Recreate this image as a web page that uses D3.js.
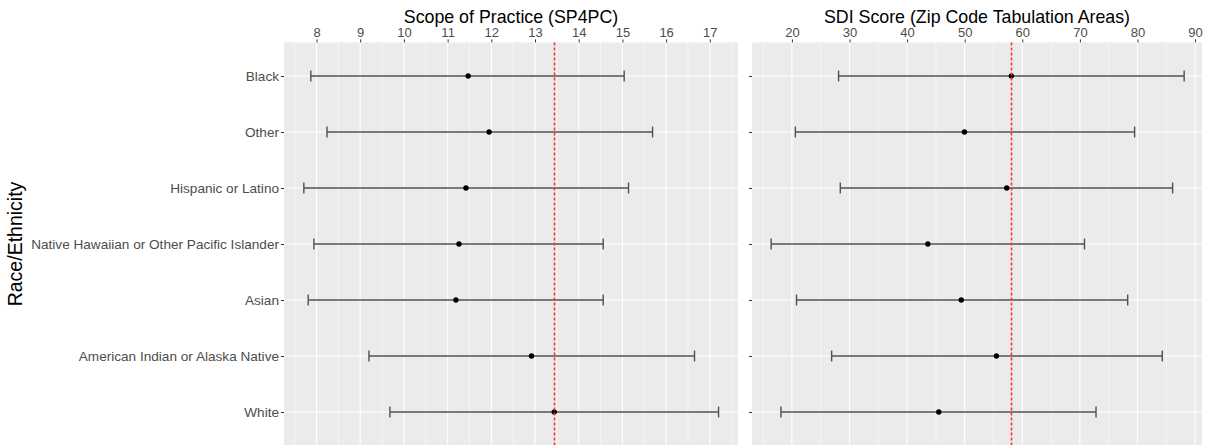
<!DOCTYPE html>
<html lang="en">
    <head>
        <meta charset="UTF-8">
        <title>Race/Ethnicity interval plot</title>
        <style>
        body {
            margin: 0;
            background: #fff;
            font-family: "Liberation Sans", Arial, sans-serif;
        }

        .panel-bg {
            fill: #EBEBEB;
        }

        .grid-major {
            stroke: #fff;
            stroke-width: 1.1px;
        }

        .grid-minor {
            stroke: #fff;
            stroke-width: 0.55px;
        }

        .panel-title {
            fill: #000;
            font-size: 17.8px;
        }

        .whisker {
            stroke: #505050;
            stroke-width: 1.4px;
            fill: none;
        }

        .ref-line {
            stroke: #FF3030;
            stroke-width: 1.6px;
            stroke-dasharray: 3 2;
        }
        </style>
    </head>
    <body>
        <svg></svg>
        <script src="https://d3js.org/d3.v7.min.js"></script>
        <script>
    // categories, top to bottom
    const categories = ["Black", "Other", "Hispanic or Latino", "Native Hawaiian or Other Pacific Islander",
        "Asian", "American Indian or Alaska Native", "White"];

    // Scope of Practice (SP4PC)
    const sp4pcMean = [11.47, 11.95, 11.42, 11.26, 11.19, 12.92, 13.44];
    const sp4pcLow  = [7.87, 8.24, 7.71, 7.94, 7.81, 9.20, 9.68];
    const sp4pcHigh = [15.04, 15.69, 15.14, 14.56, 14.56, 16.65, 17.20];
    const sp4pcRef = 13.43;
    const sp4pcTicks = [8, 9, 10, 11, 12, 13, 14, 15, 16, 17];

    // SDI Score (Zip Code Tabulation Areas)
    const sdiMean = [58.1, 49.95, 57.3, 43.6, 49.4, 55.5, 45.5];
    const sdiLow  = [28.1, 20.6, 28.4, 16.4, 20.8, 26.9, 18.1];
    const sdiHigh = [88.1, 79.5, 86.1, 70.8, 78.3, 84.3, 72.8];
    const sdiRef = 58.1;
    const sdiTicks = [20, 30, 40, 50, 60, 70, 80, 90];

    const width = 1209, height = 445;
    const svg = d3.select("svg")
        .attr("width", width)
        .attr("height", height);

    const panelTop = 42.4, panelBottom = 445.6;

    // discrete y with ggplot-like 0.6 expansion
    const y = d3.scalePoint()
        .domain(categories)
        .range([panelTop, panelBottom])
        .padding(0.6);

    const panels = [
        { title: "Scope of Practice (SP4PC)", x0: 284, x1: 738, domain: [7.256, 17.645],
          ticks: sp4pcTicks, mean: sp4pcMean, low: sp4pcLow, high: sp4pcHigh, ref: sp4pcRef, labels: true },
        { title: "SDI Score (Zip Code Tabulation Areas)", x0: 752, x1: 1202, domain: [13.07, 91.2],
          ticks: sdiTicks, mean: sdiMean, low: sdiLow, high: sdiHigh, ref: sdiRef, labels: false }
    ];

    panels.forEach(p => {
        const x = d3.scaleLinear().domain(p.domain).range([p.x0, p.x1]);
        const g = svg.append("g");

        g.append("rect")
            .attr("class", "panel-bg")
            .attr("x", p.x0).attr("y", panelTop)
            .attr("width", p.x1 - p.x0).attr("height", panelBottom - panelTop);

        // minor grid at half steps
        const step = p.ticks[1] - p.ticks[0];
        const minor = d3.range(p.ticks[0] - step / 2, p.domain[1], step)
            .filter(v => v >= p.domain[0]);
        g.selectAll(".grid-minor")
            .data(minor)
            .enter().append("line")
            .attr("class", "grid-minor")
            .attr("x1", d => x(d)).attr("x2", d => x(d))
            .attr("y1", panelTop).attr("y2", panelBottom);

        g.selectAll(".grid-major.v")
            .data(p.ticks)
            .enter().append("line")
            .attr("class", "grid-major v")
            .attr("x1", d => x(d)).attr("x2", d => x(d))
            .attr("y1", panelTop).attr("y2", panelBottom);

        g.selectAll(".grid-major.h")
            .data(categories)
            .enter().append("line")
            .attr("class", "grid-major h")
            .attr("x1", p.x0).attr("x2", p.x1)
            .attr("y1", d => y(d)).attr("y2", d => y(d));

        // top axis
        const xAxis = d3.axisTop(x).tickValues(p.ticks).tickSize(3).tickPadding(2);
        const ax = svg.append("g")
            .attr("transform", `translate(0,${panelTop})`)
            .call(xAxis);
        ax.select(".domain").remove();
        ax.selectAll(".tick line").attr("stroke", "#333").attr("stroke-width", 1);
        ax.selectAll(".tick text")
            .attr("fill", "#4D4D4D")
            .style("font-family", "'Liberation Sans', Arial, sans-serif")
            .style("font-size", "13px");

        // left axis
        const yAxis = d3.axisLeft(y).tickSize(3).tickPadding(2);
        const ay = svg.append("g")
            .attr("transform", `translate(${p.x0},0)`)
            .call(yAxis);
        ay.select(".domain").remove();
        ay.selectAll(".tick line").attr("stroke", "#333").attr("stroke-width", 1);
        if (p.labels) {
            ay.selectAll(".tick text")
                .attr("fill", "#4D4D4D")
                .style("font-family", "'Liberation Sans', Arial, sans-serif")
                .style("font-size", "13.6px");
        } else {
            ay.selectAll(".tick text").remove();
        }

        // error bars
        const rows = categories.map((c, i) => ({ c, mean: p.mean[i], low: p.low[i], high: p.high[i] }));
        const capH = 5.5;
        const bars = g.append("g").selectAll("g")
            .data(rows)
            .enter().append("g");
        bars.append("line")
            .attr("class", "whisker")
            .attr("x1", d => x(d.low)).attr("x2", d => x(d.high))
            .attr("y1", d => y(d.c)).attr("y2", d => y(d.c));
        bars.append("line")
            .attr("class", "whisker")
            .attr("x1", d => x(d.low)).attr("x2", d => x(d.low))
            .attr("y1", d => y(d.c) - capH).attr("y2", d => y(d.c) + capH);
        bars.append("line")
            .attr("class", "whisker")
            .attr("x1", d => x(d.high)).attr("x2", d => x(d.high))
            .attr("y1", d => y(d.c) - capH).attr("y2", d => y(d.c) + capH);

        // reference line, snapped to the pixel grid so it stays crisp
        const refX = Math.round(x(p.ref)) + 0.5;
        g.append("line")
            .attr("class", "ref-line")
            .attr("x1", refX).attr("x2", refX)
            .attr("y1", panelTop).attr("y2", panelBottom);

        bars.append("circle")
            .attr("cx", d => x(d.mean)).attr("cy", d => y(d.c))
            .attr("r", 2.7)
            .attr("fill", "#000");

        svg.append("text")
            .attr("class", "panel-title")
            .attr("x", (p.x0 + p.x1) / 2)
            .attr("y", 23)
            .attr("text-anchor", "middle")
            .text(p.title);
    });

    // y axis title
    svg.append("text")
        .attr("transform", `translate(22,${(panelTop + panelBottom) / 2}) rotate(-90)`)
        .attr("text-anchor", "middle")
        .style("font-size", "19.5px")
        .attr("fill", "#000")
        .text("Race/Ethnicity");
        </script>
    </body>
</html>
